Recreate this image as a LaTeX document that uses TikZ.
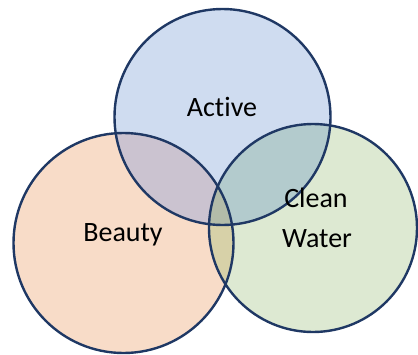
\documentclass[tikz,border=0pt]{standalone}
\usepackage{fontspec}
\setmainfont{Carlito}[Ligatures=NoCommon]
\definecolor{ringline}{HTML}{1F3864}
\definecolor{activefill}{HTML}{CFDCF0}
\definecolor{beautyfill}{HTML}{F8DCC8}
\definecolor{waterfill}{HTML}{DDE9D2}
\definecolor{activebeauty}{HTML}{CBC3D0}
\definecolor{activewater}{HTML}{B3CBCD}
\definecolor{beautywater}{HTML}{D7D1A8}
\definecolor{allthree}{HTML}{B3BCA9}
\begin{document}
\begin{tikzpicture}[x=1pt,y=-1pt,
    rim/.style={draw=ringline,line width=2.4pt},
    tag/.style={font=\fontsize{28}{40}\selectfont,align=center,anchor=base,inner sep=0pt}]

        \useasboundingbox (0,0) rectangle (418,354);

        % centres
        \coordinate (active) at (222.5, 117);
        \coordinate (beauty) at (123.5, 243);
        \coordinate (water) at (313, 228);

        % fills
        \fill [activefill] (active) circle (108);
        \fill [beautyfill] (beauty) circle (110);
        \fill [waterfill] (water) circle (104);

        % overlaps
        \begin{scope}
            \clip (active) circle (108);
            \fill [activebeauty] (beauty) circle (110);
            \fill [activewater] (water) circle (104);
        \end{scope}
        \begin{scope}
            \clip (beauty) circle (110);
            \fill [beautywater] (water) circle (104);
        \end{scope}
        \begin{scope}
            \clip (active) circle (108);
            \clip (beauty) circle (110);
            \fill [allthree] (water) circle (104);
        \end{scope}

        % outlines
        \draw [rim] (active) circle (108);
        \draw [rim] (beauty) circle (110);
        \draw [rim] (water) circle (104);

        % labels
        \node [tag] (activelbl) at (222, 116) {Active};
        \node [tag] (beautylbl) at (123, 241) {Beauty};
        \node [tag] (waterlbl1) at (316, 207) {Clean};
        \node [tag] (waterlbl2) at (317, 247) {Water};
    \end{tikzpicture}
\end{document}
